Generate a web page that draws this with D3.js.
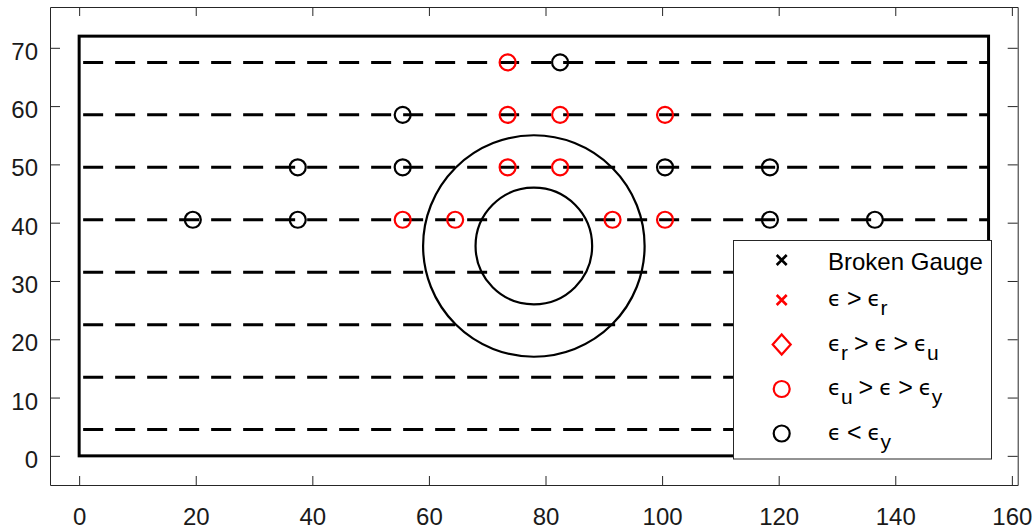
<!DOCTYPE html>
<html>
<head>
<meta charset="utf-8">
<script src="https://cdn.jsdelivr.net/npm/d3@7"></script>
<style>
    body { margin: 0; background: #fff; }
    svg { display: block; }
    text { font-family: "Liberation Sans", Arial, Helvetica, sans-serif; }
</style>
</head>
<body>
<svg id="chart" width="1035" height="531"></svg>
<script>
// gauge line heights
const gaugeRows = [4.5, 13.5, 22.5, 31.5, 40.5, 49.5, 58.5, 67.5];

// plate outline and hole (inner / outer ring)
const plateW = 156, plateH = 72;
const holeCx = 78, holeCy = 36;
const holeRadii = [10, 19];

// eps_u > eps > eps_y  (red circles)
const yieldX = [73.5, 73.5, 82.5, 100.5, 73.5, 82.5, 55.5, 64.5, 91.5, 100.5];
const yieldY = [67.5, 58.5, 58.5, 58.5, 49.5, 49.5, 40.5, 40.5, 40.5, 40.5];

// eps < eps_y  (black circles)
const elasticX = [82.5, 55.5, 37.5, 55.5, 100.5, 118.5, 19.5, 37.5, 118.5, 136.5];
const elasticY = [67.5, 58.5, 49.5, 49.5, 49.5, 49.5, 40.5, 40.5, 40.5, 40.5];

const xTicks = [0, 20, 40, 60, 80, 100, 120, 140, 160];
const yTicks = [0, 10, 20, 30, 40, 50, 60, 70];

// legend labels as tokens: txt = plain, eps = epsilon, op = relation, sub = subscript
const E = "\u03F5";
const legendLabels = [
    [["Broken Gauge", "txt"]],
    [[E, "eps"], [">", "op"], [E, "eps"], ["r", "sub"]],
    [[E, "eps"], ["r", "sub"], [">", "op"], [E, "eps"], [">", "op"], [E, "eps"], ["u", "sub"]],
    [[E, "eps"], ["u", "sub"], [">", "op"], [E, "eps"], [">", "op"], [E, "eps"], ["y", "sub"]],
    [[E, "eps"], ["<", "op"], [E, "eps"], ["y", "sub"]]
];
const legendMarkers = ["x", "x", "diamond", "circle", "circle"];
const legendColors = ["#000", "#ff0000", "#ff0000", "#ff0000", "#000"];

const svg = d3.select("#chart");
const axisColor = "#262626";

const x = d3.scaleLinear().domain([-5, 161]).range([50, 1017.7]);
const y = d3.scaleLinear().domain([-5, 77]).range([485, 7]);

// axes, ticks inward on all four sides
function styleAxis(g) {
    g.selectAll("path, line").attr("stroke", axisColor).attr("stroke-width", 1);
    g.selectAll("text").attr("fill", "#1a1a1a").attr("font-size", 24)
        .attr("font-family", "Liberation Sans, Arial, sans-serif");
}

svg.append("g")
    .attr("transform", `translate(0, ${y(-5)})`)
    .call(d3.axisBottom(x).tickValues(xTicks).tickSizeInner(-9).tickSizeOuter(0).tickPadding(23))
    .call(styleAxis);

svg.append("g")
    .attr("transform", `translate(0, ${y(77)})`)
    .call(d3.axisTop(x).tickValues(xTicks).tickSizeInner(-9).tickSizeOuter(0).tickFormat(""))
    .call(styleAxis);

svg.append("g")
    .attr("transform", `translate(${x(-5)}, 0)`)
    .call(d3.axisLeft(y).tickValues(yTicks).tickSizeInner(-10).tickSizeOuter(0).tickPadding(12))
    .call(styleAxis)
    .selectAll("text").attr("dy", "0.48em");

svg.append("g")
    .attr("transform", `translate(${x(161)}, 0)`)
    .call(d3.axisRight(y).tickValues(yTicks).tickSizeInner(-10).tickSizeOuter(0).tickFormat(""))
    .call(styleAxis);

// gauge lines
svg.append("g").selectAll("line")
    .data(gaugeRows)
    .join("line")
    .attr("x1", x(0)).attr("x2", x(plateW))
    .attr("y1", d => y(d)).attr("y2", d => y(d))
    .attr("stroke", "#000")
    .attr("stroke-width", 3)
    .attr("stroke-dasharray", "20,12")
    .attr("stroke-dashoffset", 28);

// plate
svg.append("rect")
    .attr("x", x(0)).attr("y", y(plateH))
    .attr("width", x(plateW) - x(0))
    .attr("height", y(0) - y(plateH))
    .attr("fill", "none")
    .attr("stroke", "#000")
    .attr("stroke-width", 3);

// hole
svg.append("g").selectAll("circle")
    .data(holeRadii)
    .join("circle")
    .attr("cx", x(holeCx)).attr("cy", y(holeCy))
    .attr("r", d => x(d) - x(0))
    .attr("fill", "none")
    .attr("stroke", "#000")
    .attr("stroke-width", 2.2);

// gauge markers
function drawCircles(xs, ys, color) {
    svg.append("g").selectAll("circle")
        .data(xs.map((d, i) => [d, ys[i]]))
        .join("circle")
        .attr("cx", d => x(d[0])).attr("cy", d => y(d[1]))
        .attr("r", 8)
        .attr("fill", "none")
        .attr("stroke", color)
        .attr("stroke-width", 2.2);
}
drawCircles(yieldX, yieldY, "#ff0000");
drawCircles(elasticX, elasticY, "#000");

// legend
const legend = svg.append("g");
legend.append("rect")
    .attr("x", 733.5).attr("y", 240.5)
    .attr("width", 258).attr("height", 218.5)
    .attr("fill", "#fff")
    .attr("stroke", axisColor)
    .attr("stroke-width", 1);

const rowY = [260, 300, 344.5, 389, 433.5];
const markX = 781.7;

legendLabels.forEach((tokens, i) => {
    const cy = rowY[i];
    const col = legendColors[i];
    const m = legendMarkers[i];
    if (m === "x") {
        legend.append("path")
            .attr("d", `M${markX - 5},${cy - 5}L${markX + 5},${cy + 5}M${markX - 5},${cy + 5}L${markX + 5},${cy - 5}`)
            .attr("stroke", col).attr("stroke-width", 2.6).attr("fill", "none");
    } else if (m === "diamond") {
        legend.append("path")
            .attr("d", `M${markX},${cy - 10}L${markX + 9},${cy}L${markX},${cy + 10}L${markX - 9},${cy}Z`)
            .attr("stroke", col).attr("stroke-width", 2.2).attr("fill", "none");
    } else {
        legend.append("circle")
            .attr("cx", markX).attr("cy", cy).attr("r", 8)
            .attr("stroke", col).attr("stroke-width", 2.2).attr("fill", "none");
    }

    const t = legend.append("text")
        .attr("x", 828)
        .attr("y", tokens[0][1] === "txt" ? cy + 10 : cy + 6)
        .attr("font-size", 24)
        .attr("fill", "#000");

    let shift = 0;
    tokens.forEach(([txt, kind], j) => {
        const target = kind === "sub" ? 9 : kind === "op" ? 1 : 0;
        const ts = t.append("tspan").text(txt);
        if (target !== shift) ts.attr("dy", target - shift);
        shift = target;
        const prev = j > 0 ? tokens[j - 1][1] : null;
        if (kind === "op") ts.attr("dx", 6);
        else if (prev === "op") ts.attr("dx", 6);
        if (kind === "eps") ts.attr("font-family", "DejaVu Sans, sans-serif").attr("font-size", 21);
        if (kind === "sub") ts.attr("font-size", 21);
        if (kind === "op") ts.attr("font-size", 25);
    });
});
</script>
</body>
</html>
